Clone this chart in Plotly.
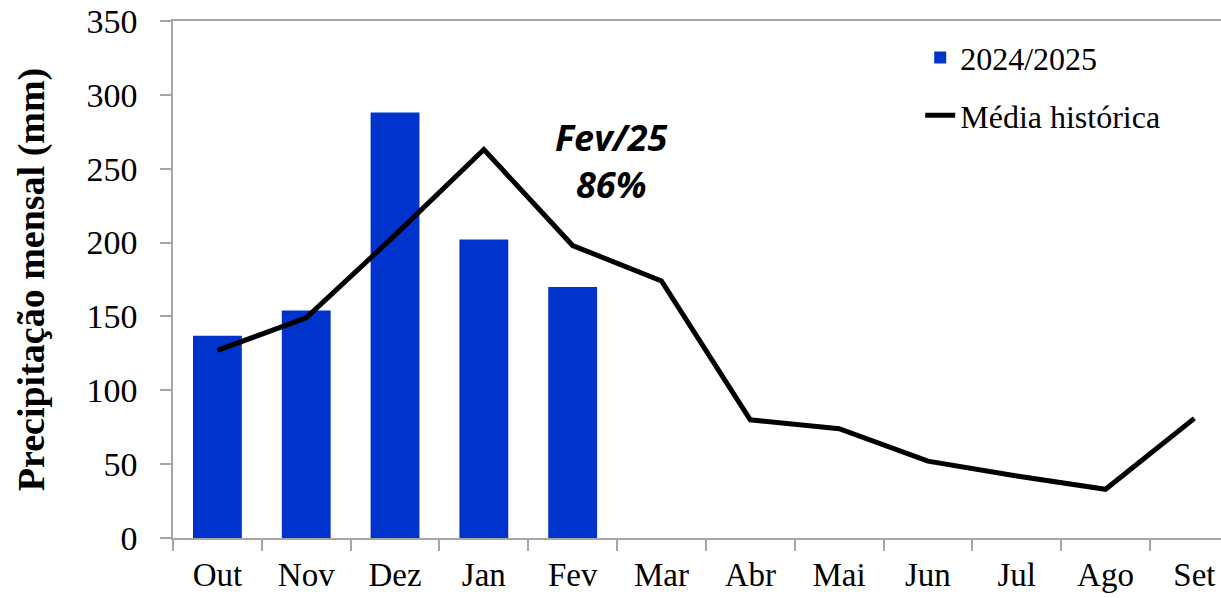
import plotly.graph_objects as go

# Monthly rainfall (mm), hydrological year Oct–Sep
months = ["Out", "Nov", "Dez", "Jan", "Fev", "Mar", "Abr", "Mai", "Jun", "Jul", "Ago", "Set"]
obs_months = ["Out", "Nov", "Dez", "Jan", "Fev"]
obs_2024_25 = [137, 154, 288, 202, 170]
hist_mean = [127, 149, 205, 263, 198, 174, 80, 74, 52, 42, 33, 81]
y_ticks = [0, 50, 100, 150, 200, 250, 300, 350]

BLUE = "#0033cc"
AXIS_GREY = "#a6a6a6"
SERIF = "Liberation Serif"

# February observed as a share of the historical mean
fev_idx = months.index("Fev")
fev_pct = round(100 * obs_2024_25[obs_months.index("Fev")] / hist_mean[fev_idx])

fig = go.Figure()
fig.add_trace(go.Bar(
    x=obs_months, y=obs_2024_25, name="2024/2025",
    marker=dict(color=BLUE, line=dict(width=0)),
    width=0.55, legendgroup="a",
))
fig.add_trace(go.Scatter(
    x=months, y=hist_mean, name="Média histórica", mode="lines",
    line=dict(color="black", width=5), legendgroup="b",
))

fig.add_annotation(
    x=4.44, y=255, xref="x", yref="y",
    text=f"<b><i>Fev/25</i></b><br><b><i>{fev_pct}%</i></b>",
    showarrow=False, font=dict(family="Open Sans", size=36, color="black"),
    align="center", yanchor="middle",
)

fig.update_layout(
    width=1221, height=598,
    margin=dict(l=173, r=0, t=21, b=60),
    paper_bgcolor="white", plot_bgcolor="white",
    showlegend=True,
    legend=dict(
        x=0.713, y=0.982, xanchor="left", yanchor="top",
        font=dict(family=SERIF, size=32, color="black"),
        traceorder="grouped", tracegroupgap=13,
        bgcolor="rgba(0,0,0,0)",
    ),
    bargap=0.45,
)

fig.update_xaxes(
    type="category", categoryorder="array", categoryarray=months,
    range=[-0.5, 11.3], automargin=False,
    showline=True, linecolor=AXIS_GREY, linewidth=1.5, mirror=True,
    ticks="outside", tickson="boundaries", ticklen=11, tickcolor=AXIS_GREY, tickwidth=1.5,
    showgrid=False, zeroline=False,
    tickfont=dict(family=SERIF, size=33, color="black"),
    ticklabelstandoff=7,
)
fig.update_yaxes(
    range=[0, 350], tickvals=y_ticks, automargin=False,
    showline=True, linecolor=AXIS_GREY, linewidth=1.5,
    ticks="outside", ticklen=11, tickcolor=AXIS_GREY, tickwidth=1.5,
    showgrid=False, zeroline=False,
    tickfont=dict(family=SERIF, size=34, color="black"),
    ticklabelstandoff=16,
    title=dict(text="<b>Precipitação mensal (mm)</b>",
               font=dict(family=SERIF, size=38, color="black"), standoff=30),
)

fig.write_html("out.html")
